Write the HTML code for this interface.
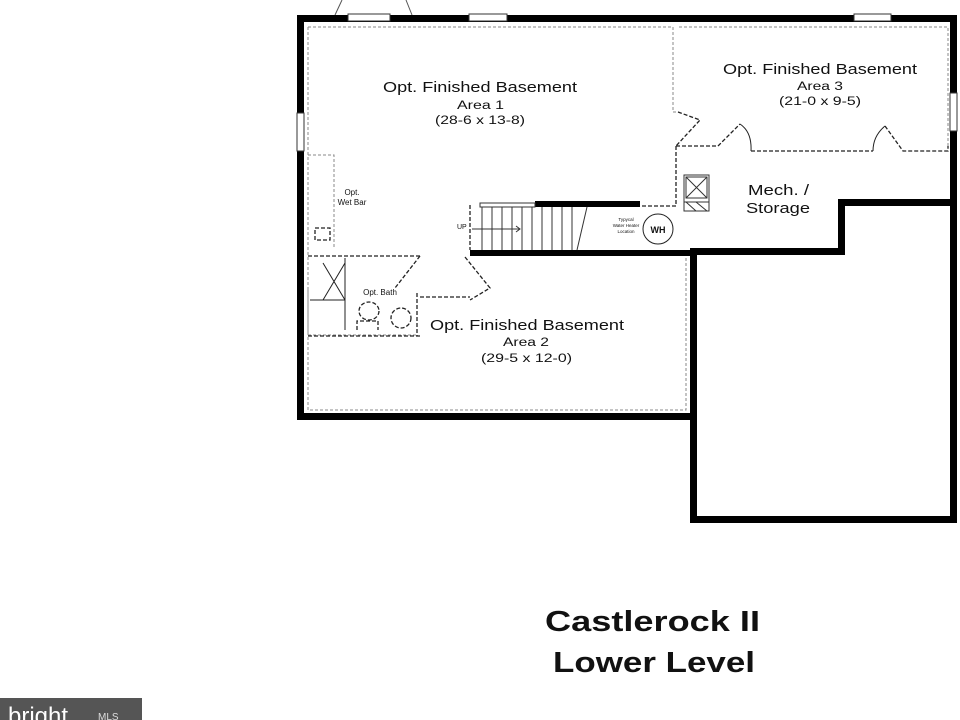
<!DOCTYPE html>
<html><head><meta charset="utf-8"><style>
html,body{margin:0;padding:0;background:#fff;width:960px;height:720px;overflow:hidden}
svg{display:block}
text{font-family:"Liberation Sans",sans-serif;fill:#111}
</style></head><body>
<svg width="960" height="720" viewBox="0 0 960 720">
<line x1="335" y1="15" x2="342" y2="0" stroke="#555" stroke-width="1"/>
<line x1="412" y1="15" x2="406" y2="0" stroke="#555" stroke-width="1"/>
<g fill="#000">
<rect x="297" y="15" width="660" height="7"/>
<rect x="297" y="15" width="7" height="405"/>
<rect x="297" y="413" width="399" height="7"/>
<rect x="950" y="15" width="7" height="508"/>
<rect x="840" y="199" width="117" height="7"/>
<rect x="838" y="199" width="7" height="56"/>
<rect x="690" y="248" width="155" height="7"/>
<rect x="690" y="248" width="7" height="275"/>
<rect x="690" y="516" width="267" height="7"/>
<rect x="535" y="201" width="105" height="6"/>
<rect x="470" y="250" width="226" height="6"/>
</g>
<g fill="#fff" stroke="#333" stroke-width="1">
<rect x="348" y="14" width="42" height="7"/>
<rect x="469" y="14" width="38" height="7"/>
<rect x="854" y="14" width="37" height="7"/>
<rect x="297" y="113" width="7" height="38"/>
<rect x="950" y="93" width="7" height="38"/>
</g>
<g fill="none" stroke="#888" stroke-width="1" stroke-dasharray="3,2">
<path d="M308 27 H673 V112 H679"/>
<path d="M679 27 H948 V146"/>
<path d="M308 27 V410 H686 V258"/>
<path d="M308 155 H334 V248"/>
<path d="M308 290 V335 H418"/>
</g>
<g fill="none" stroke="#222" stroke-width="1.3" stroke-dasharray="4,2">
<path d="M676 146 V206 H640"/>
<path d="M676 146 H718 L740 124"/>
<path d="M751 151 H873"/>
<path d="M885 126 L903 151 H948 L948 146"/>
<path d="M678 112 L700 120 L676 146"/>
<path d="M308 256 H420"/>
<path d="M308 336 H420"/>
<path d="M417 293 V336"/>
<path d="M420 256 L395 288"/>
<path d="M470 205 V250"/>
<path d="M465 257 L490 288 L470 300"/>
<path d="M420 297 H470"/>
<ellipse cx="369" cy="311" rx="10" ry="9"/>
<ellipse cx="401" cy="318" rx="10" ry="10"/>
<path d="M357 330 V321 H378 V330"/>
<path d="M315 228 H330 V240 H315 Z"/>
</g>
<g stroke="#222" stroke-width="1" fill="none">
<path d="M323 263 L345 300 M345 263 L323 300 M345 258 V330 M310 300 H345"/>
<path d="M740 124 Q752 132 751 151 M885 126 Q873 136 873 151"/>
</g>
<g stroke="#333" stroke-width="1">
<line x1="482" y1="207" x2="482" y2="250"/><line x1="492" y1="207" x2="492" y2="250"/>
<line x1="502" y1="207" x2="502" y2="250"/><line x1="512" y1="207" x2="512" y2="250"/>
<line x1="522" y1="207" x2="522" y2="250"/><line x1="532" y1="207" x2="532" y2="250"/>
<line x1="542" y1="207" x2="542" y2="250"/><line x1="552" y1="207" x2="552" y2="250"/>
<line x1="562" y1="207" x2="562" y2="250"/><line x1="572" y1="207" x2="572" y2="250"/>
<line x1="587" y1="207" x2="577" y2="250"/>
<line x1="472" y1="229" x2="520" y2="229"/>
<path d="M516 226 L520 229 L516 232" fill="none"/>
<rect x="480" y="203" width="55" height="4" fill="#fff"/>
</g>
<text x="457" y="229" font-size="7">UP</text>
<circle cx="658" cy="229" r="15" fill="#fff" stroke="#222" stroke-width="1"/>
<text x="658" y="233" font-size="9" text-anchor="middle" font-weight="bold">WH</text>
<text x="626" y="221" font-size="4.5" text-anchor="middle">Typycal</text>
<text x="626" y="227" font-size="4.5" text-anchor="middle">Water Heater</text>
<text x="626" y="233" font-size="4.5" text-anchor="middle">Location</text>
<g stroke="#333" stroke-width="1" fill="none">
<rect x="684" y="175" width="25" height="36"/>
<rect x="686" y="177" width="21" height="21"/>
<path d="M686 177 L707 198 M707 177 L686 198 M684 202 H709 M686 202 L696 211 M696 202 L707 211"/>
</g>
<g lengthAdjust="spacingAndGlyphs">
<text x="383" y="92" font-size="15" textLength="194" lengthAdjust="spacingAndGlyphs">Opt. Finished Basement</text>
<text x="457" y="109" font-size="11.5" textLength="47" lengthAdjust="spacingAndGlyphs">Area 1</text>
<text x="435" y="124" font-size="11.5" textLength="90" lengthAdjust="spacingAndGlyphs">(28-6 x 13-8)</text>
<text x="723" y="74" font-size="15" textLength="194" lengthAdjust="spacingAndGlyphs">Opt. Finished Basement</text>
<text x="797" y="90" font-size="11.5" textLength="46" lengthAdjust="spacingAndGlyphs">Area 3</text>
<text x="779" y="105" font-size="11.5" textLength="82" lengthAdjust="spacingAndGlyphs">(21-0 x 9-5)</text>
<text x="748" y="195" font-size="15" textLength="61" lengthAdjust="spacingAndGlyphs">Mech. /</text>
<text x="746" y="213" font-size="15" textLength="64" lengthAdjust="spacingAndGlyphs">Storage</text>
<text x="430" y="330" font-size="15" textLength="194" lengthAdjust="spacingAndGlyphs">Opt. Finished Basement</text>
<text x="503" y="346" font-size="11.5" textLength="46" lengthAdjust="spacingAndGlyphs">Area 2</text>
<text x="481" y="362" font-size="11.5" textLength="91" lengthAdjust="spacingAndGlyphs">(29-5 x 12-0)</text>
<text x="352" y="195" font-size="8" text-anchor="middle">Opt.</text>
<text x="352" y="205" font-size="8" text-anchor="middle">Wet Bar</text>
<text x="380" y="295" font-size="8" text-anchor="middle">Opt. Bath</text>
<text x="545" y="631" font-size="29" font-weight="bold" textLength="215" lengthAdjust="spacingAndGlyphs">Castlerock II</text>
<text x="553" y="672" font-size="29" font-weight="bold" textLength="202" lengthAdjust="spacingAndGlyphs">Lower Level</text>
</g>
<rect x="0" y="698" width="142" height="22" fill="#555"/>
<text x="8" y="724" font-size="24" font-family="Liberation Serif" style="fill:#fff">bright</text>
<text x="98" y="720" font-size="10" style="fill:#ddd">MLS</text>
</svg>
</body></html>
